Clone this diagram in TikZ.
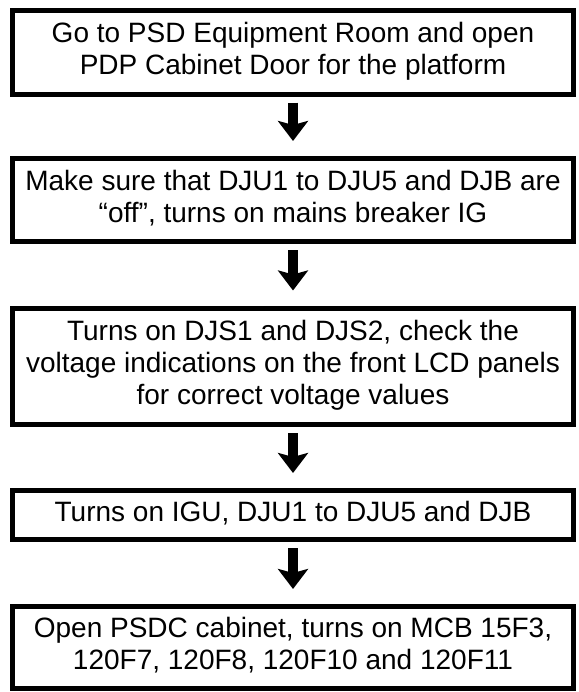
\documentclass[tikz,border=0pt]{standalone}
\usepackage{fontspec}
\setmainfont{Liberation Sans}
\usetikzlibrary{arrows.meta}
\newcommand\boxlines[1]{\begin{tabular}{@{}c@{}}#1\end{tabular}}
\begin{document}
\begin{tikzpicture}[x=1pt,y=-1pt,
  box/.style={draw=black, line width=5pt, fill=white, minimum width=561pt,
    inner sep=0pt, font=\fontsize{28}{32}\selectfont},
  flow/.style={line width=10pt, -{Stealth[length=20pt,width=30pt,inset=4pt]},
    shorten <=6pt, shorten >=15pt}]
\useasboundingbox (0,0) rectangle (578,692);
\node[box, minimum height=83.2pt] (b1) at (293,52.6)
  {\boxlines{Go to PSD Equipment Room and open\\PDP Cabinet Door for the platform}};
\node[box, minimum height=83.5pt] (b2) at (293,200.25)
  {\boxlines{Make sure that DJU1 to DJU5 and DJB are\\“off”, turns on mains breaker IG}};
\node[box, minimum height=116.5pt] (b3) at (293,366.25)
  {\boxlines{Turns on DJS1 and DJS2, check the\\voltage indications on the front LCD panels\\for correct voltage values}};
\node[box, minimum height=49pt] (b4) at (293,515)
  {\boxlines{Turns on IGU, DJU1 to DJU5 and DJB}};
\node[box, minimum height=82pt] (b5) at (293,647.5)
  {\boxlines{Open PSDC cabinet, turns on MCB 15F3,\\120F7, 120F8, 120F10 and 120F11}};
\draw[flow] (b1) -- (b2);
\draw[flow] (b2) -- (b3);
\draw[flow] (b3) -- (b4);
\draw[flow] (b4) -- (b5);
\end{tikzpicture}
\end{document}
